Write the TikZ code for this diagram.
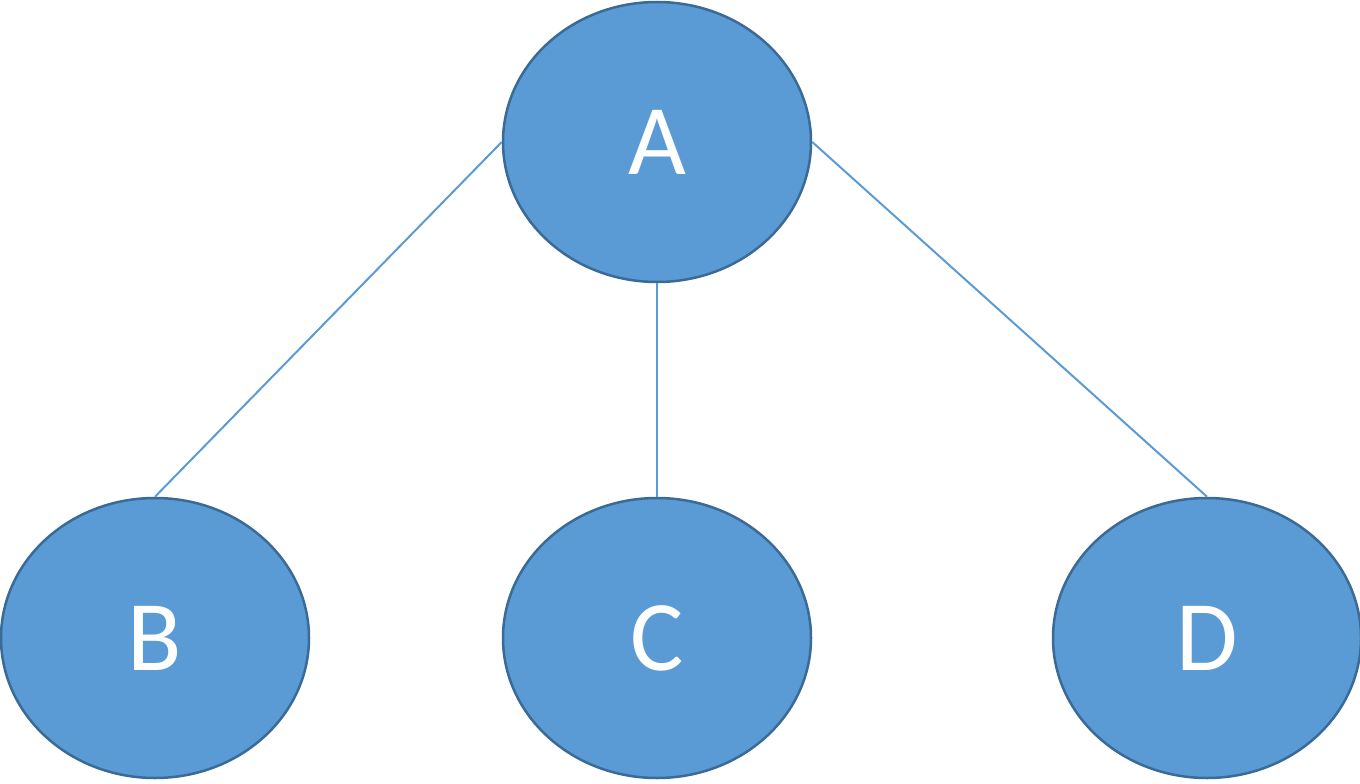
\documentclass[tikz,border=0pt]{standalone}
\usepackage{fontspec}
\setmainfont{Carlito}
\usetikzlibrary{shapes.geometric}
\definecolor{nodeblue}{HTML}{5B9BD5}
\definecolor{nodeedge}{HTML}{3A6A96}

\begin{document}
\begin{tikzpicture} [x=1pt,y=-1pt,
    vertex/.style={ellipse,draw=nodeedge,line width=2.5pt,fill=nodeblue,
      minimum width=308pt,minimum height=280pt,inner sep=0pt,
      text=white,font=\fontsize{100}{100}\selectfont},
    link/.style={draw=nodeblue,line width=2pt}]
    \useasboundingbox (0,0) rectangle (1360,784);

    \node[vertex] (a) at (657,142) {A};
    \node[vertex] (b) at (155,638) {B};
    \node[vertex] (c) at (657,638) {C};
    \node[vertex] (d) at (1207,638) {D};

      \path[link]
      (a.west) edge (b.north)
      (a.south) edge (c.north)
      (a.east) edge (d.north);
    \end{tikzpicture}
\end{document}
